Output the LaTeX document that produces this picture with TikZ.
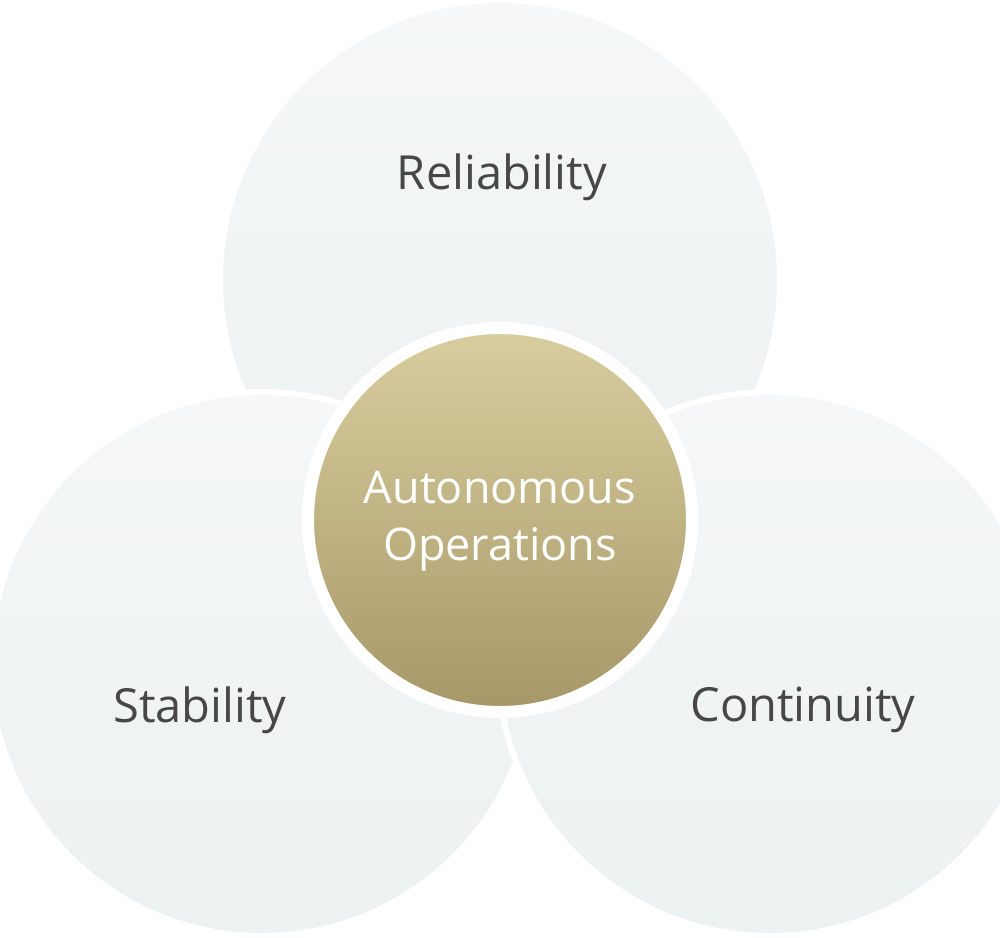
\documentclass[tikz,border=0pt]{standalone}
\usepackage{fontspec}
\setmainfont{Open Sans}
\begin{document}
\begin{tikzpicture}[x=1pt,y=-1pt,
  big/.style={draw=white,line width=6pt,top color={rgb,255:red,245;green,247;blue,248},bottom color={rgb,255:red,236;green,241;blue,242}},
  lab/.style={text=black!72,font=\fontsize{47}{54}\selectfont},
  clab/.style={text=white,font=\fontsize{45}{57}\selectfont,align=center}]
\useasboundingbox (0,0) rectangle (1000,937);
\path[big] (500,280) circle[radius=280];
\path[big] (262,664) circle[radius=272];
\path[big] (770,664) circle[radius=272];
\path[draw=white,line width=12pt,shading=axis,shading angle=-150,top color={rgb,255:red,217;green,206;blue,159},bottom color={rgb,255:red,166;green,151;blue,104}] (500,520) circle[radius=192];
\node[lab] (r) at (502,177) {Reliability};
\node[lab] (s) at (200,710) {Stability};
\node[lab] (c) at (803,710) {Continuity};
\node[clab] (a) at (500,521) {Autonomous\\Operations};
\end{tikzpicture}
\end{document}
